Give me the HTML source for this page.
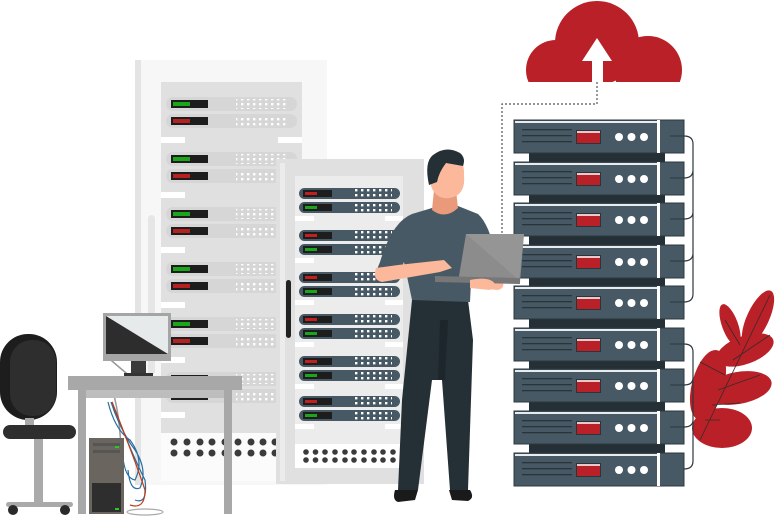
<!DOCTYPE html>
<html><head><meta charset="utf-8"><style>html,body{margin:0;padding:0;background:#fff}svg{display:block}</style></head>
<body>
<svg width="775" height="516" viewBox="0 0 775 516" xmlns="http://www.w3.org/2000/svg">
<defs>
  <pattern id="dg" width="6" height="5" patternUnits="userSpaceOnUse"><rect x="1" y="1" width="2.4" height="2.4" fill="#fff"/></pattern>
  <g id="lpair">
    <rect x="166" y="0" width="131" height="14" rx="7" fill="#d6d6d6"/>
    <rect x="171" y="3" width="37" height="8" fill="#1d1d1d"/>
    <rect x="173" y="5" width="17" height="4" fill="#1aa51a"/>
    <rect x="236" y="2" width="50" height="10" fill="url(#dg)"/>
    <rect x="166" y="17" width="131" height="14" rx="7" fill="#d6d6d6"/>
    <rect x="171" y="20" width="37" height="8" fill="#1d1d1d"/>
    <rect x="173" y="22" width="17" height="4" fill="#b52020"/>
    <rect x="236" y="19" width="50" height="10" fill="url(#dg)"/>
    <rect x="161" y="40" width="24" height="6" fill="#fff"/>
    <rect x="278" y="40" width="24" height="6" fill="#fff"/>
  </g>
  <g id="mpair">
    <rect x="299" y="0" width="101" height="11" rx="5.5" fill="#475964"/>
    <rect x="303" y="2" width="29" height="7" fill="#1d1d1d"/>
    <rect x="305" y="4" width="12" height="3" fill="#c02020"/>
    <rect x="352" y="1" width="40" height="9" fill="url(#dg)"/>
    <rect x="299" y="14" width="101" height="11" rx="5.5" fill="#475964"/>
    <rect x="303" y="16" width="29" height="7" fill="#1d1d1d"/>
    <rect x="305" y="18" width="12" height="3" fill="#1aa51a"/>
    <rect x="352" y="15" width="40" height="9" fill="url(#dg)"/>
    <rect x="295" y="28" width="19" height="5" fill="#fff"/>
    <rect x="385" y="28" width="18" height="5" fill="#fff"/>
  </g>
  <g id="unit">
    <rect x="529" y="30" width="136" height="12" fill="#253036"/>
    <rect x="514" y="0" width="170" height="33" fill="#475964" stroke="#2c383f" stroke-width="1"/>
    <rect x="515" y="1" width="142" height="2" fill="#e8ecee"/>
    <rect x="657" y="0" width="3" height="33" fill="#fff"/>
    <rect x="522" y="9" width="50" height="1.3" fill="#2a353b"/>
    <rect x="522" y="15" width="50" height="1.3" fill="#2a353b"/>
    <rect x="522" y="21" width="50" height="1.3" fill="#2a353b"/>
    <rect x="576" y="10" width="25" height="14" fill="#2a353b"/>
    <rect x="577" y="11" width="23" height="12" fill="#b92027"/>
    <rect x="577" y="11" width="23" height="2" fill="#e9c9c9"/>
    <circle cx="619" cy="17" r="4" fill="#fff"/>
    <circle cx="631.5" cy="17" r="4" fill="#fff"/>
    <circle cx="644" cy="17" r="4" fill="#fff"/>
    <line x1="670" y1="16" x2="684" y2="16" stroke="#2c383f" stroke-width="1"/>
  </g>
</defs>

<!-- left light rack -->
<rect x="135" y="60" width="192" height="425" fill="#f7f7f7"/>
<rect x="135" y="60" width="6" height="425" fill="#e4e4e4"/>
<rect x="161" y="82" width="141" height="360" fill="#e0e0e0"/>
<rect x="148" y="215" width="7" height="160" rx="3.5" fill="#e6e6e6"/>
<use href="#lpair" y="97"/>
<use href="#lpair" y="152"/>
<use href="#lpair" y="207"/>
<use href="#lpair" y="262"/>
<use href="#lpair" y="317"/>
<use href="#lpair" y="372"/>
<rect x="161" y="433" width="120" height="48" fill="#fbfbfb"/>
<g fill="#3b3b3b">
<circle cx="174" cy="442" r="3.5"/><circle cx="187" cy="442" r="3.5"/><circle cx="200" cy="442" r="3.5"/><circle cx="212" cy="442" r="3.5"/><circle cx="225" cy="442" r="3.5"/><circle cx="238" cy="442" r="3.5"/><circle cx="251" cy="442" r="3.5"/><circle cx="263" cy="442" r="3.5"/><circle cx="275" cy="442" r="3.5"/>
<circle cx="174" cy="453" r="3.5"/><circle cx="187" cy="453" r="3.5"/><circle cx="200" cy="453" r="3.5"/><circle cx="212" cy="453" r="3.5"/><circle cx="225" cy="453" r="3.5"/><circle cx="238" cy="453" r="3.5"/><circle cx="251" cy="453" r="3.5"/><circle cx="263" cy="453" r="3.5"/><circle cx="275" cy="453" r="3.5"/>
</g>

<!-- middle rack -->
<rect x="276" y="159" width="148" height="325" fill="#e0e0e0"/>
<rect x="280" y="163" width="5" height="318" fill="#ececec"/>
<rect x="295" y="176" width="108" height="270" fill="#ececec"/>
<rect x="286" y="280" width="5" height="58" rx="2.5" fill="#222"/>
<use href="#mpair" y="188"/>
<use href="#mpair" y="230"/>
<use href="#mpair" y="272"/>
<use href="#mpair" y="314"/>
<use href="#mpair" y="356"/>
<use href="#mpair" y="396"/>
<rect x="295" y="444" width="108" height="24" fill="#fff"/>
<g fill="#3b3b3b">
<circle cx="306" cy="452" r="2.8"/><circle cx="315.5" cy="452" r="2.8"/><circle cx="325" cy="452" r="2.8"/><circle cx="335" cy="452" r="2.8"/><circle cx="345" cy="452" r="2.8"/><circle cx="354" cy="452" r="2.8"/><circle cx="364" cy="452" r="2.8"/><circle cx="374" cy="452" r="2.8"/><circle cx="383" cy="452" r="2.8"/><circle cx="393" cy="452" r="2.8"/>
<circle cx="306" cy="460" r="2.8"/><circle cx="315.5" cy="460" r="2.8"/><circle cx="325" cy="460" r="2.8"/><circle cx="335" cy="460" r="2.8"/><circle cx="345" cy="460" r="2.8"/><circle cx="354" cy="460" r="2.8"/><circle cx="364" cy="460" r="2.8"/><circle cx="374" cy="460" r="2.8"/><circle cx="383" cy="460" r="2.8"/><circle cx="393" cy="460" r="2.8"/>
</g>

<!-- leaf -->
<g fill="#b92027">
<ellipse cx="758" cy="318" rx="11" ry="30" transform="rotate(25 758 318)"/>
<ellipse cx="745" cy="350" rx="30" ry="14" transform="rotate(-20 745 350)"/>
<ellipse cx="738" cy="388" rx="34" ry="16" transform="rotate(-10 738 388)"/>
<ellipse cx="722" cy="428" rx="30" ry="20"/>
<ellipse cx="708" cy="385" rx="16" ry="36" transform="rotate(15 708 385)"/>
<ellipse cx="730" cy="325" rx="8" ry="22" transform="rotate(-20 730 325)"/>
</g>
<path d="M770 295 L700 440 M740 345 L725 320 M733 360 L770 335 M725 375 L700 362 M718 390 L760 375 M712 405 L740 403 M705 420 L720 420" stroke="#3a2a2a" stroke-width="0.8" fill="none"/>

<!-- cloud -->
<g fill="#b92027">
<circle cx="556" cy="70" r="30"/>
<circle cx="597" cy="43" r="42"/>
<circle cx="648" cy="70" r="34"/>
</g>
<rect x="510" y="82" width="190" height="40" fill="#fff"/>
<path d="M597 38 L612 61 L603 61 L603 82 L592 82 L592 61 L582 61 Z" fill="#fff"/>
<path d="M597 82 L597 104 L502 104 L502 235" stroke="#555" stroke-width="1.2" stroke-dasharray="2,2" fill="none"/>

<!-- right rack -->
<use href="#unit" y="120"/>
<use href="#unit" y="162"/>
<use href="#unit" y="203"/>
<use href="#unit" y="245"/>
<use href="#unit" y="286"/>
<use href="#unit" y="328"/>
<use href="#unit" y="369"/>
<use href="#unit" y="411"/>
<g>
<rect x="514" y="453" width="170" height="33" fill="#475964" stroke="#2c383f"/>
<rect x="515" y="454" width="142" height="2" fill="#e8ecee"/>
<rect x="657" y="453" width="3" height="33" fill="#fff"/>
<rect x="522" y="462" width="50" height="1.3" fill="#2a353b"/><rect x="522" y="468" width="50" height="1.3" fill="#2a353b"/><rect x="522" y="474" width="50" height="1.3" fill="#2a353b"/>
<rect x="576" y="463" width="25" height="14" fill="#2a353b"/><rect x="577" y="464" width="23" height="12" fill="#b92027"/><rect x="577" y="464" width="23" height="2" fill="#e9c9c9"/>
<circle cx="619" cy="470" r="4" fill="#fff"/><circle cx="631.5" cy="470" r="4" fill="#fff"/><circle cx="644" cy="470" r="4" fill="#fff"/>
</g>
<path d="M684 136 Q693 136 693 144 L693 170 Q693 178 684 178 M693 170 L693 212 Q693 219 684 219 M693 212 L693 253 Q693 261 684 261 M693 253 L693 294 Q693 302 684 302" stroke="#2c383f" stroke-width="1.2" fill="none"/>
<path d="M684 344 Q693 344 693 352 L693 378 Q693 385 684 385 M693 378 L693 420 Q693 427 684 427 M693 420 L693 461 Q693 469 684 469" stroke="#2c383f" stroke-width="1.2" fill="none"/>

<!-- person -->
<path d="M412 300 L468 300 L473 340 L468 490 L450 490 L442 380 L432 380 L418 490 L398 490 L402 400 Z" fill="#253036"/>
<path d="M440 320 L448 320 L445 380 L438 380 Z" fill="#1d262b"/>
<path d="M395 490 Q392 500 398 502 L415 500 L418 490 Z M449 490 L470 490 Q475 498 468 501 L452 500 Z" fill="#1a1a1a"/>
<path d="M432 208 L412 214 Q392 222 380 262 L376 272 L398 276 L404 262 L412 300 L470 302 L472 260 L484 262 L496 258 Q490 225 478 214 L458 206 Z" fill="#475964"/>
<path d="M376 268 Q372 280 382 282 L440 272 L452 268 L444 260 L398 265 Z" fill="#fbb89a"/>
<path d="M475 288 L498 290 Q506 288 502 280 L480 278 Z" fill="#fbb89a"/>
<path d="M434 190 L432 210 Q445 220 458 208 L456 190 Z" fill="#e99a7a"/>
<path d="M429 170 Q428 152 446 152 Q465 154 464 175 Q466 195 450 198 Q436 200 431 186 Z" fill="#fbb89a"/>
<path d="M429 185 Q424 162 433 155 Q446 145 460 153 Q466 158 463 166 L446 163 Q439 172 437 182 Z" fill="#253036"/>
<path d="M466 234 L524 234 L520 282 L458 282 Z" fill="#8c8c8c"/>
<path d="M466 234 L524 234 L519 280 Z" fill="#959595"/>
<path d="M435 276 L520 278 L520 284 L435 282 Z" fill="#777"/>
<path d="M470 280 Q490 276 495 284 L490 290 L470 288 Z" fill="#fbb89a"/>

<!-- desk -->
<path d="M105 355 Q128 375 135 380 M109 380 Q125 420 120 500" stroke="#999" stroke-width="1.5" fill="none"/>
<rect x="103" y="313" width="68" height="48" fill="#a5a5a5"/>
<rect x="106" y="316" width="62" height="38" fill="#e7eaea"/>
<path d="M106 316 L168 354 L106 354 Z" fill="#2d2d2d"/>
<rect x="131" y="361" width="15" height="13" fill="#3a3a3a"/>
<rect x="124" y="373" width="29" height="4" fill="#333"/>
<rect x="68" y="376" width="174" height="14" fill="#a8a8a8"/>
<rect x="78" y="390" width="154" height="8" fill="#bdbdbd"/>
<rect x="78" y="390" width="8" height="124" fill="#a8a8a8"/>
<rect x="224" y="390" width="8" height="124" fill="#a8a8a8"/>
<path d="M108 402 Q115 430 130 440 Q145 460 135 480 Q122 478 122 440 M111 402 Q120 430 135 450 Q148 470 140 488 Q130 492 128 470 M112 402 Q130 450 145 480 Q148 505 135 500" stroke="#2a6fa0" stroke-width="1.2" fill="none"/>
<path d="M112 402 Q135 460 145 490 Q145 510 130 505" stroke="#c03a1a" stroke-width="1.2" fill="none"/>
<ellipse cx="145" cy="512" rx="18" ry="3" fill="none" stroke="#aaa" stroke-width="1.2"/>
<rect x="89" y="438" width="35" height="76" fill="#6b6560"/>
<rect x="93" y="443" width="27" height="3" fill="#555"/>
<rect x="93" y="450" width="27" height="3" fill="#555"/>
<rect x="92" y="483" width="29" height="29" fill="#2e2e2e"/>
<rect x="115" y="446" width="4" height="2" fill="#2c2"/>
<rect x="115" y="508" width="4" height="2" fill="#2c2"/>

<!-- chair -->
<rect x="0" y="334" width="57" height="86" rx="28" fill="#1d1d1d"/>
<rect x="10" y="340" width="46" height="76" rx="22" fill="#2e2e2e"/>
<rect x="25" y="418" width="9" height="10" fill="#aaa"/>
<rect x="3" y="425" width="73" height="14" rx="7" fill="#2e2e2e"/>
<rect x="34" y="439" width="9" height="64" fill="#aaa"/>
<rect x="6" y="502" width="67" height="5" rx="2.5" fill="#aaa"/>
<circle cx="13" cy="510" r="5" fill="#2a2a2a"/>
<circle cx="65" cy="510" r="5" fill="#2a2a2a"/>
</svg>
</body></html>
